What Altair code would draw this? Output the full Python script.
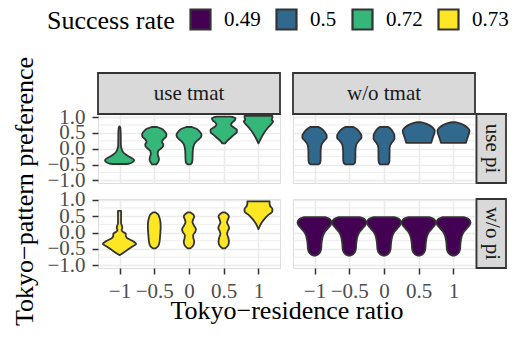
import altair as alt
import pandas as pd

SERIF = "Liberation Serif"

# ---- categories / ticks ----
X_POS = [-1.0, -0.5, 0.0, 0.5, 1.0]
Y_MAJOR = [-1.0, -0.5, 0.0, 0.5, 1.0]
Y_MINOR = [-0.75, -0.25, 0.25, 0.75]
TMAT = ["use tmat", "w/o tmat"]
PI = ["use pi", "w/o pi"]
RATES = ["0.49", "0.5", "0.72", "0.73"]
COLORS = ["#440154", "#31688E", "#35B779", "#FDE725"]
PANEL_RATE = [["0.72", "0.5"], ["0.73", "0.49"]]  # [pi][tmat]

# ---- violin profiles (y, half-width), one list per x position ----
UT_UP = [  # use tmat / use pi
    [(0.71, 0.0), (0.66, 0.012), (0.5, 0.017), (0.3, 0.018), (0.1, 0.02), (0.0, 0.03), (-0.1, 0.05),
     (-0.18, 0.09), (-0.25, 0.14), (-0.31, 0.19), (-0.36, 0.21), (-0.42, 0.19), (-0.47, 0.14), (-0.48, 0.1)],
    [(0.69, 0.04), (0.64, 0.1), (0.55, 0.15), (0.45, 0.175), (0.38, 0.17), (0.3, 0.13), (0.22, 0.11),
     (0.14, 0.13), (0.07, 0.125), (0.0, 0.09), (-0.08, 0.055), (-0.16, 0.05), (-0.25, 0.06),
     (-0.33, 0.068), (-0.42, 0.055), (-0.49, 0.03)],
    [(0.69, 0.04), (0.64, 0.1), (0.55, 0.15), (0.45, 0.18), (0.38, 0.175), (0.3, 0.14), (0.22, 0.1),
     (0.14, 0.075), (0.05, 0.062), (-0.05, 0.055), (-0.2, 0.052), (-0.35, 0.05), (-0.45, 0.04), (-0.49, 0.02)],
    [(1.02, 0.1), (0.97, 0.17), (0.9, 0.16), (0.83, 0.12), (0.76, 0.105), (0.68, 0.14), (0.6, 0.19),
     (0.53, 0.19), (0.45, 0.15), (0.35, 0.1), (0.25, 0.05), (0.17, 0.02)],
    [(1.04, 0.2), (0.98, 0.2), (0.92, 0.19), (0.87, 0.21), (0.82, 0.2), (0.75, 0.17), (0.65, 0.13),
     (0.5, 0.08), (0.35, 0.04), (0.17, 0.0)],
]
WT_UP = [  # w/o tmat / use pi
    [(0.69, 0.06), (0.62, 0.11), (0.52, 0.15), (0.42, 0.175), (0.34, 0.175), (0.26, 0.14), (0.17, 0.11),
     (0.08, 0.095), (-0.1, 0.088), (-0.3, 0.088), (-0.45, 0.08), (-0.49, 0.06)],
    [(0.69, 0.06), (0.62, 0.11), (0.52, 0.15), (0.42, 0.175), (0.34, 0.175), (0.26, 0.14), (0.17, 0.11),
     (0.08, 0.095), (-0.1, 0.088), (-0.3, 0.088), (-0.45, 0.08), (-0.49, 0.06)],
    [(0.69, 0.06), (0.62, 0.1), (0.52, 0.13), (0.42, 0.15), (0.32, 0.15), (0.22, 0.12), (0.12, 0.09),
     (0.02, 0.08), (-0.2, 0.08), (-0.4, 0.078), (-0.49, 0.06)],
    [(0.84, 0.02), (0.81, 0.08), (0.75, 0.15), (0.67, 0.2), (0.58, 0.23), (0.5, 0.225), (0.4, 0.21),
     (0.3, 0.195), (0.19, 0.18)],
    [(0.84, 0.02), (0.81, 0.08), (0.75, 0.15), (0.67, 0.2), (0.58, 0.23), (0.5, 0.225), (0.4, 0.21),
     (0.3, 0.195), (0.19, 0.18)],
]
UT_WP = [  # use tmat / w/o pi
    [(0.66, 0.022), (0.45, 0.022), (0.28, 0.022), (0.2, 0.035), (0.14, 0.04), (0.08, 0.03), (0.02, 0.05),
     (-0.04, 0.09), (-0.1, 0.09), (-0.17, 0.11), (-0.26, 0.19), (-0.35, 0.24), (-0.42, 0.19),
     (-0.52, 0.12), (-0.62, 0.05), (-0.69, 0.0)],
    [(0.61, 0.02), (0.55, 0.055), (0.45, 0.075), (0.3, 0.09), (0.15, 0.092), (0.0, 0.088), (-0.15, 0.082),
     (-0.3, 0.075), (-0.42, 0.055), (-0.48, 0.02)],
    [(0.61, 0.02), (0.56, 0.055), (0.49, 0.075), (0.4, 0.06), (0.32, 0.05), (0.22, 0.07), (0.1, 0.1),
     (0.02, 0.09), (-0.08, 0.06), (-0.16, 0.062), (-0.28, 0.075), (-0.4, 0.06), (-0.48, 0.02)],
    [(0.61, 0.02), (0.56, 0.055), (0.49, 0.075), (0.4, 0.06), (0.3, 0.048), (0.2, 0.07), (0.13, 0.078),
     (0.05, 0.06), (-0.04, 0.048), (-0.15, 0.065), (-0.28, 0.075), (-0.4, 0.06), (-0.48, 0.02)],
    [(0.95, 0.16), (0.88, 0.16), (0.8, 0.17), (0.72, 0.2), (0.64, 0.2), (0.55, 0.15), (0.42, 0.09),
     (0.28, 0.04), (0.1, 0.0)],
]
WT_WP_ONE = [(0.47, 0.15), (0.43, 0.2), (0.37, 0.235), (0.3, 0.245), (0.22, 0.23), (0.12, 0.19),
             (0.02, 0.15), (-0.08, 0.125), (-0.2, 0.11), (-0.35, 0.1), (-0.5, 0.095), (-0.6, 0.08),
             (-0.67, 0.05), (-0.7, 0.02)]
WT_WP = [WT_WP_ONE] * 5  # w/o tmat / w/o pi: all five look alike

PROFILES = [[UT_UP, WT_UP], [UT_WP, WT_WP]]  # [pi][tmat]
Y_DOMAINS = [[-1.08, 1.10], [-1.08, 1.02]]   # per row

W, H = 182, 69
GRID = "#EBEBEB"
DARK = "#333333"

rate_legend = alt.Legend(
    orient="none", legendX=-51, legendY=-106, direction="horizontal", gridAlign="none",
    title="Success rate", titleOrient="left", titleFont=SERIF, titleFontSize=26,
    titleFontWeight="normal", titleColor="black", titlePadding=14, titleBaseline="middle",
    labelFont=SERIF, labelFontSize=21, labelColor="black", labelOffset=12,
    symbolType="square", symbolSize=400, symbolStrokeColor=DARK, symbolStrokeWidth=2.2,
    symbolOpacity=1, columnPadding=11, padding=0,
)


def panel(pi_i, tm_i):
    rows = []
    for k, prof in enumerate(PROFILES[pi_i][tm_i]):
        for (yy, ww) in prof:
            rows.append({"vid": k, "xc": X_POS[k], "y": yy, "w": ww,
                         "rate": PANEL_RATE[pi_i][tm_i]})
    vdf = pd.DataFrame(rows)
    yscale = alt.Scale(domain=Y_DOMAINS[pi_i], nice=False, zero=False)
    xscale = alt.Scale(domain=[-1.31, 1.31], nice=False, zero=False)
    left = tm_i == 0
    bottom = pi_i == 1

    if left:
        yaxis = alt.Axis(values=Y_MAJOR, format=".1f", tickSize=6, tickColor=DARK, tickWidth=1.5,
                         labelFont=SERIF, labelFontSize=21, labelColor="#4D4D4D", labelPadding=7,
                         labelOverlap=False, labelFlush=False,
                         domain=False, grid=True, gridColor=GRID, gridWidth=1.6,
                         title=("Tokyo−pattern preference" if pi_i == 0 else None),
                         titleFont=SERIF, titleFontSize=26, titleFontWeight="normal", titleColor="black",
                         titleX=-65.5, titleY=77, titleAngle=270, titleAlign="center",
                         titleBaseline="alphabetic")
    else:
        yaxis = alt.Axis(values=Y_MAJOR, labels=False, ticks=False, domain=False, grid=True,
                         gridColor=GRID, gridWidth=1.6, title=None)
    if bottom:
        xaxis = alt.Axis(values=X_POS, format="~g", tickSize=6, tickColor=DARK, tickWidth=1.5,
                         labelFont=SERIF, labelFontSize=21, labelColor="#4D4D4D", labelPadding=6,
                         labelOverlap=False, labelFlush=False,
                         domain=False, grid=True, gridColor=GRID, gridWidth=1.6,
                         title=("Tokyo−residence ratio" if left else None),
                         titleFont=SERIF, titleFontSize=26, titleFontWeight="normal", titleColor="black",
                         titleX=188.5, titleY=50, titleAlign="center", titleBaseline="alphabetic")
    else:
        xaxis = alt.Axis(values=X_POS, labels=False, ticks=False, domain=False, grid=True,
                         gridColor=GRID, gridWidth=1.6, title=None)

    minor = alt.Chart(pd.DataFrame({"gy": Y_MINOR})).mark_rule(color=GRID, strokeWidth=0.9).encode(
        y=alt.Y("gy:Q", scale=yscale, axis=yaxis))

    violins = alt.Chart(vdf).transform_calculate(
        lo="datum.xc - datum.w", hi="datum.xc + datum.w"
    ).mark_area(orient="horizontal", interpolate="monotone", stroke=DARK, strokeWidth=1.8,
                fillOpacity=1, strokeJoin="round").encode(
        y=alt.Y("y:Q", scale=yscale, axis=yaxis),
        x=alt.X("lo:Q", scale=xscale, axis=xaxis),
        x2="hi:Q",
        detail="vid:N",
        fill=alt.Fill("rate:N", scale=alt.Scale(domain=RATES, range=COLORS), legend=rate_legend),
    )
    layers = [minor, violins]
    if pi_i == 0:
        sdf = pd.DataFrame({"label": [TMAT[tm_i]]})
        layers.append(alt.Chart(sdf).mark_rect(fill="#D9D9D9", stroke=DARK, strokeWidth=1.8).encode(
            x=alt.value(0), x2=alt.value(W), y=alt.value(-41), y2=alt.value(0)))
        layers.append(alt.Chart(sdf).mark_text(font=SERIF, fontSize=21, color="#1A1A1A",
                                               baseline="middle", align="center").encode(
            x=alt.value(W / 2), y=alt.value(-20), text="label:N"))
    if tm_i == 1:
        rdf = pd.DataFrame({"label": [PI[pi_i]]})
        layers.append(alt.Chart(rdf).mark_rect(fill="#D9D9D9", stroke=DARK, strokeWidth=1.8).encode(
            x=alt.value(W + 1.5), x2=alt.value(W + 31), y=alt.value(0), y2=alt.value(H)))
        layers.append(alt.Chart(rdf).mark_text(font=SERIF, fontSize=21, color="#1A1A1A", angle=90,
                                               baseline="middle", align="center").encode(
            x=alt.value(W + 16.5), y=alt.value(H / 2), text="label:N"))
    return alt.layer(*layers).properties(width=W, height=H)


chart = alt.concat(
    panel(0, 0), panel(0, 1), panel(1, 0), panel(1, 1),
    columns=2, spacing={"row": 16, "column": 13}, bounds="flush",
).properties(
    padding={"left": 2, "top": 0, "right": 0, "bottom": 0}
).configure_view(stroke=DARK, strokeWidth=1.8).configure_legend(
    labelFont=SERIF, titleFont=SERIF
).configure(background="white")

chart.save("out.html", embed_options={"renderer": "svg", "actions": False})
